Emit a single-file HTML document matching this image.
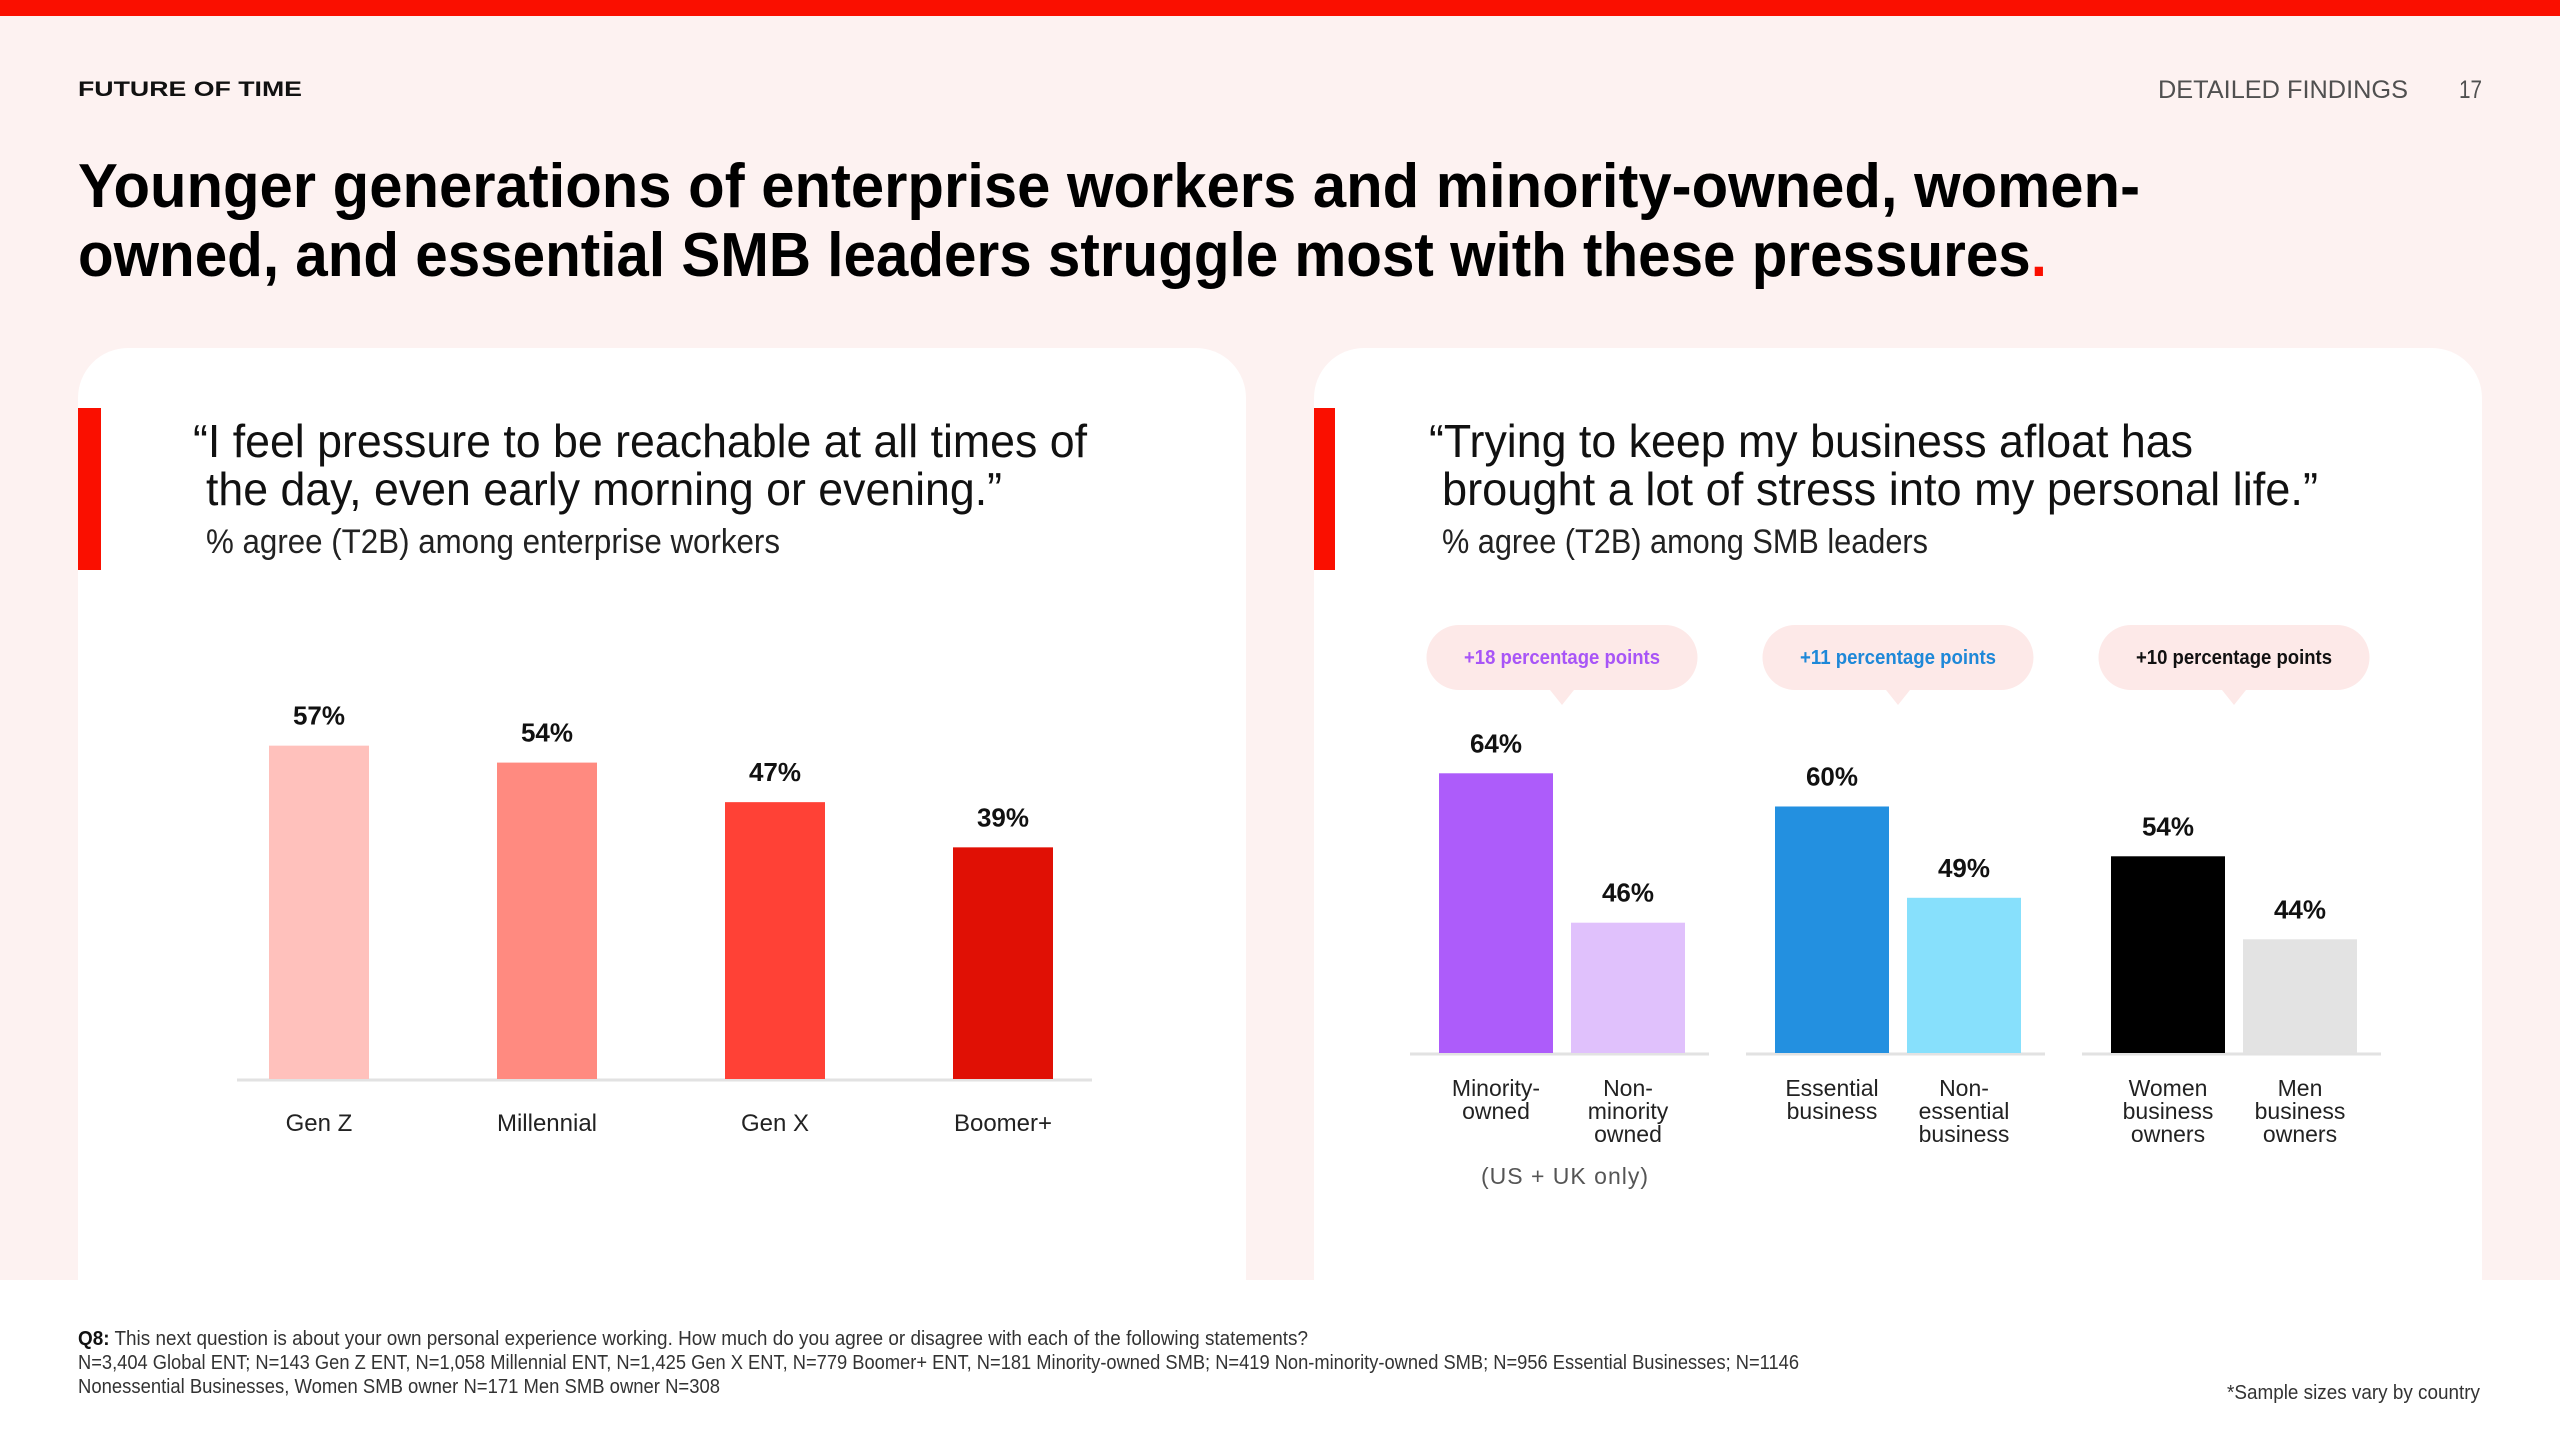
<!DOCTYPE html>
<html><head><meta charset="utf-8"><style>
html,body{margin:0;padding:0;background:#fff}
svg{display:block;font-family:"Liberation Sans",sans-serif}
</style></head><body>
<svg id="s" width="2560" height="1440" viewBox="0 0 2560 1440" xmlns="http://www.w3.org/2000/svg">
<rect x="0" y="0" width="2560" height="1280" fill="#fdf2f1"/>
<rect x="0" y="0" width="2560" height="16" fill="#fa0f00"/>
<text x="78" y="96" font-size="21" font-weight="bold" fill="#111" textLength="224" lengthAdjust="spacingAndGlyphs">FUTURE OF TIME</text>
<text x="2158" y="98" font-size="25" fill="#505050" textLength="250" lengthAdjust="spacingAndGlyphs">DETAILED FINDINGS</text>
<text x="2459" y="98" font-size="25" fill="#505050" textLength="23" lengthAdjust="spacingAndGlyphs">17</text>
<text x="78" y="207" font-size="62" font-weight="bold" fill="#000" textLength="2062" lengthAdjust="spacingAndGlyphs">Younger generations of enterprise workers and minority-owned, women-</text>
<text x="78" y="276" font-size="62" font-weight="bold" fill="#000" textLength="1969" lengthAdjust="spacingAndGlyphs">owned, and essential SMB leaders struggle most with these pressures<tspan fill="#fa0f00">.</tspan></text>

<path d="M78,1280 V398 a50,50 0 0 1 50,-50 H1196 a50,50 0 0 1 50,50 V1280 Z" fill="#fff"/>
<path d="M1314,1280 V398 a50,50 0 0 1 50,-50 H2432 a50,50 0 0 1 50,50 V1280 Z" fill="#fff"/>
<rect x="78" y="408" width="23" height="162" fill="#fa0f00"/>
<rect x="1314" y="408" width="21" height="162" fill="#fa0f00"/>

<text x="193" y="457" font-size="46" fill="#111" textLength="894" lengthAdjust="spacingAndGlyphs">“I feel pressure to be reachable at all times of</text>
<text x="206" y="505" font-size="46" fill="#111" textLength="796" lengthAdjust="spacingAndGlyphs">the day, even early morning or evening.”</text>
<text x="206" y="553" font-size="34" fill="#222" textLength="574" lengthAdjust="spacingAndGlyphs">% agree (T2B) among enterprise workers</text>
<text x="1429" y="457" font-size="46" fill="#111" textLength="764" lengthAdjust="spacingAndGlyphs">“Trying to keep my business afloat has</text>
<text x="1442" y="505" font-size="46" fill="#111" textLength="876" lengthAdjust="spacingAndGlyphs">brought a lot of stress into my personal life.”</text>
<text x="1442" y="553" font-size="34" fill="#222" textLength="486" lengthAdjust="spacingAndGlyphs">% agree (T2B) among SMB leaders</text>

<g id="leftChart"></g>
<g id="rightChart"></g>

<text x="1565" y="1184" font-size="23" fill="#555" text-anchor="middle" letter-spacing="1">(US + UK only)</text>

<text x="78" y="1345" font-size="20" fill="#333" textLength="1230" lengthAdjust="spacingAndGlyphs"><tspan font-weight="bold" fill="#111">Q8:</tspan> This next question is about your own personal experience working. How much do you agree or disagree with each of the following statements?</text>
<text x="78" y="1369" font-size="20" fill="#333" textLength="1721" lengthAdjust="spacingAndGlyphs">N=3,404 Global ENT; N=143 Gen Z ENT, N=1,058 Millennial ENT, N=1,425 Gen X ENT, N=779 Boomer+ ENT, N=181 Minority-owned SMB; N=419 Non-minority-owned SMB; N=956 Essential Businesses; N=1146</text>
<text x="78" y="1393" font-size="20" fill="#333" textLength="642" lengthAdjust="spacingAndGlyphs">Nonessential Businesses, Women SMB owner N=171 Men SMB owner N=308</text>
<text x="2480" y="1399" font-size="20" fill="#333" text-anchor="end" textLength="253" lengthAdjust="spacingAndGlyphs">*Sample sizes vary by country</text>
</svg>
<script>
const genCategories = ["Gen Z","Millennial","Gen X","Boomer+"];
const genValues = [57,54,47,39];
const genColors = ["#ffc1bc","#ff8a80","#ff4136","#e01005"];

const smbCategories = [["Minority-","owned"],["Non-","minority","owned"],["Essential","business"],["Non-","essential","business"],["Women","business","owners"],["Men","business","owners"]];
const smbValues = [64,46,60,49,54,44];
const smbColors = ["#ad5cfa","#e0c1fc","#2390e0","#87e0fc","#000000","#e3e3e3"];
const gapLabels = ["+18 percentage points","+11 percentage points","+10 percentage points"];
const gapColors = ["#a855f7","#1e88d8","#111111"];

const NS = "http://www.w3.org/2000/svg";
function mk(tag, attrs, parent){const e=document.createElementNS(NS,tag);for(const k in attrs)e.setAttribute(k,attrs[k]);parent.appendChild(e);return e;}

// Left chart axes
const L = document.getElementById('leftChart');
const lBase = 1079, lMin = -2, lPer = 5.65;
function lY(v){return lBase - (v - lMin)*lPer;}
function lX(i){return 319 + i*228;}
const lAxis = mk('line',{x1:237,x2:1092,y1:lBase+1,y2:lBase+1,stroke:'#e2e2e2','stroke-width':3},L);


genValues.forEach((v,i)=>{
  const cx=lX(i), w=100;
  const b=mk('rect',{x:cx-w/2,y:lY(v),width:w,height:lBase-lY(v),fill:genColors[i]},L);
  
  
  const t=mk('text',{x:cx,y:lY(v)-21,'font-size':26,'font-weight':'bold','text-anchor':'middle',fill:'#111'},L);
  t.textContent=v+'%';
  
  
  const c=mk('text',{x:cx,y:1131,'font-size':24,'text-anchor':'middle',fill:'#222'},L);
  c.textContent=genCategories[i];
  
  
});

// Right chart
const R = document.getElementById('rightChart');
const rBase = 1053, rMin = 30.3, rPer = 8.3;
function rY(v){return rBase - (v - rMin)*rPer;}
function rX(i){return 1496 + Math.floor(i/2)*336 + (i%2)*132;}
for(let g=0; g<3; g++){
  const gx = rX(g*2);
  const ax=mk('line',{x1:gx-86,x2:gx+213,y1:rBase+1,y2:rBase+1,stroke:'#e2e2e2','stroke-width':3},R);
  
  
  const px = gx+66;
  const pill=mk('path',{d:`M${px-103},625 H${px+103} a32.5,32.5 0 0 1 0,65 H${px+12} L${px},705 L${px-12},690 H${px-103} a32.5,32.5 0 0 1 0,-65 Z`,fill:'#fde9e8'},R);
  
  
  const pt=mk('text',{x:px,y:664,'font-size':20,'font-weight':'bold','text-anchor':'middle',fill:gapColors[g],textLength:196,lengthAdjust:'spacingAndGlyphs'},R);
  pt.textContent=gapLabels[g];
  
  
}
smbValues.forEach((v,i)=>{
  const cx=rX(i), w=114;
  const b=mk('rect',{x:cx-w/2,y:rY(v),width:w,height:rBase-rY(v),fill:smbColors[i]},R);
  
  
  const t=mk('text',{x:cx,y:rY(v)-21,'font-size':26,'font-weight':'bold','text-anchor':'middle',fill:'#111'},R);
  t.textContent=v+'%';
  
  
  smbCategories[i].forEach((line,j)=>{
    const c=mk('text',{x:cx,y:1096+j*23,'font-size':23,'text-anchor':'middle',fill:'#222'},R);
    c.textContent=line;
    
    
  });
});
</script>
</body></html>
